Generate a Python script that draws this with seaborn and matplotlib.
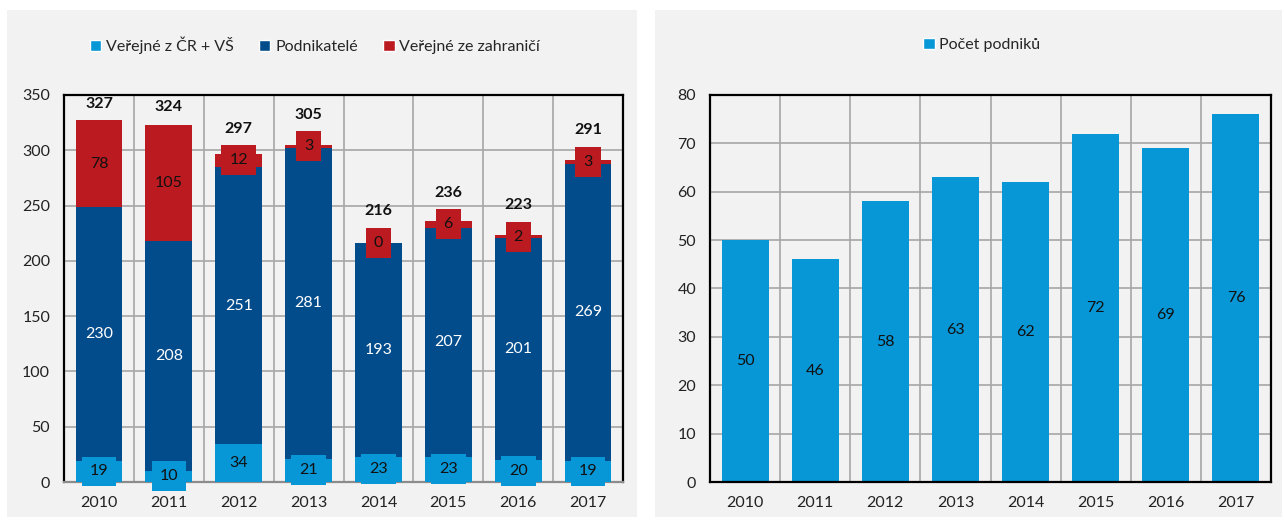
import numpy as np
import pandas as pd
import seaborn as sns
import matplotlib.pyplot as plt
from matplotlib.patches import Rectangle, Patch

years = ["2010", "2011", "2012", "2013", "2014", "2015", "2016", "2017"]
verejne_cr = [19, 10, 34, 21, 23, 23, 20, 19]
podnikatele = [230, 208, 251, 281, 193, 207, 201, 269]
verejne_zahr = [78, 105, 12, 3, 0, 6, 2, 3]
celkem = [327, 324, 297, 305, 216, 236, 223, 291]
pocet_podniku = [50, 46, 58, 63, 62, 72, 69, 76]

c_light = "#0796d6"
c_dark = "#034c8c"
c_red = "#bb1a20"
bg = "#f2f2f2"
grid_c = "#a6a6a6"

sns.set_style("white")
plt.rcParams['font.family'] = ['Lato', 'DejaVu Sans']
plt.rcParams['font.size'] = 11.5

df = pd.DataFrame({"rok": years, "cr": verejne_cr, "podn": podnikatele, "zahr": verejne_zahr})
df["s1"] = df["cr"]
df["s2"] = df["cr"] + df["podn"]
df["s3"] = df["s2"] + df["zahr"]

fig = plt.figure(figsize=(12.84, 5.27), dpi=100)
fig.patch.set_facecolor("white")
fig.patches.append(Rectangle((7 / 1284, 10 / 527), 630 / 1284, 507 / 527, transform=fig.transFigure,
                             facecolor=bg, edgecolor="none", zorder=-10))
fig.patches.append(Rectangle((655 / 1284, 10 / 527), 627 / 1284, 507 / 527, transform=fig.transFigure,
                             facecolor=bg, edgecolor="none", zorder=-10))

ax1 = fig.add_axes([64 / 1284, 45 / 527, 559 / 1284, 387 / 527])
ax2 = fig.add_axes([710 / 1284, 45 / 527, 561 / 1284, 387 / 527])


def style_axes(ax, ymax, step, bottom_color):
    ax.set_facecolor(bg)
    ax.set_ylim(0, ymax)
    ax.set_yticks(np.arange(0, ymax + 1, step))
    ax.set_xlim(-0.5, len(years) - 0.5)
    ax.set_xticks(np.arange(-0.5, len(years), 1), minor=True)
    ax.grid(True, axis="y", color=grid_c, linewidth=1.2)
    ax.grid(True, axis="x", which="minor", color=grid_c, linewidth=1.2)
    ax.set_axisbelow(True)
    for side in ["left", "right", "top"]:
        ax.spines[side].set_color("black")
        ax.spines[side].set_linewidth(1.6)
        ax.spines[side].set_visible(True)
    ax.spines["bottom"].set_color(bottom_color)
    ax.spines["bottom"].set_linewidth(1.6)
    ax.spines["bottom"].set_visible(True)
    ax.tick_params(axis="y", length=4, color="black", pad=6, labelsize=11.5, colors="#222222")
    ax.tick_params(axis="x", which="major", length=0, pad=10, labelsize=11.5, colors="#222222")
    ax.set_xlabel("")
    ax.set_ylabel("")


# left chart: stacked bars drawn as overlapping cumulative bars
bar_kw = dict(saturation=1, width=0.67, linewidth=0)
sns.barplot(data=df, x="rok", y="s3", color=c_red, ax=ax1, zorder=2, **bar_kw)
sns.barplot(data=df, x="rok", y="s2", color=c_dark, ax=ax1, zorder=3, **bar_kw)
sns.barplot(data=df, x="rok", y="s1", color=c_light, ax=ax1, zorder=4, **bar_kw)
style_axes(ax1, 350, 50, "#8c8c8c")
ax1.tick_params(axis="x", which="minor", length=0)

box_half = 13.6  # half height of a label box, in data units of the left chart
for i in range(len(years)):
    ax1.text(i, df["cr"][i] / 2, str(verejne_cr[i]), ha="center", va="center", fontsize=11.5, color="#111111",
             zorder=6, bbox=dict(boxstyle="square,pad=0.5", facecolor=c_light, edgecolor="none"))
    ax1.text(i, df["s1"][i] + podnikatele[i] / 2, str(podnikatele[i]), ha="center", va="center",
             fontsize=11.5, color="white", zorder=6)
    red_mid = df["s2"][i] + verejne_zahr[i] / 2
    ax1.text(i, red_mid, str(verejne_zahr[i]), ha="center", va="center",
             fontsize=11.5, color="#111111", zorder=6,
             bbox=dict(boxstyle="square,pad=0.5", facecolor=c_red, edgecolor="none"))
    anchor = max(celkem[i], red_mid + box_half)
    ax1.annotate(str(celkem[i]), (i, anchor), xytext=(0, 12), textcoords="offset points",
                 ha="center", va="center", fontsize=11.5, fontweight="bold", color="#111111", zorder=6,
                 annotation_clip=False)

h1 = [Patch(facecolor=c_light), Patch(facecolor=c_dark), Patch(facecolor=c_red)]
fig.legend(h1, ["Veřejné z ČR + VŠ", "Podnikatelé", "Veřejné ze zahraničí"], loc="center",
           bbox_to_anchor=(315 / 1284, 1 - 45 / 527), ncol=3, frameon=False, handlelength=0.7,
           handleheight=0.7, handletextpad=0.3, columnspacing=1.6, fontsize=11.5)

# right chart
df2 = pd.DataFrame({"rok": years, "pocet": pocet_podniku})
sns.barplot(data=df2, x="rok", y="pocet", color=c_light, ax=ax2, zorder=2, **bar_kw)
style_axes(ax2, 80, 10, "black")
ax2.tick_params(axis="x", which="minor", length=5, color="black", width=1)
for i in range(len(years)):
    ax2.text(i, pocet_podniku[i] / 2, str(pocet_podniku[i]), ha="center", va="center",
             fontsize=11.5, color="#111111", zorder=6)

fig.legend([Patch(facecolor=c_light)], ["Počet podniků"], loc="center",
           bbox_to_anchor=(982 / 1284, 1 - 45 / 527), frameon=False, handlelength=0.7,
           handleheight=0.7, handletextpad=0.3, fontsize=11.5)

fig.savefig("out.png", dpi=100, facecolor="white")
